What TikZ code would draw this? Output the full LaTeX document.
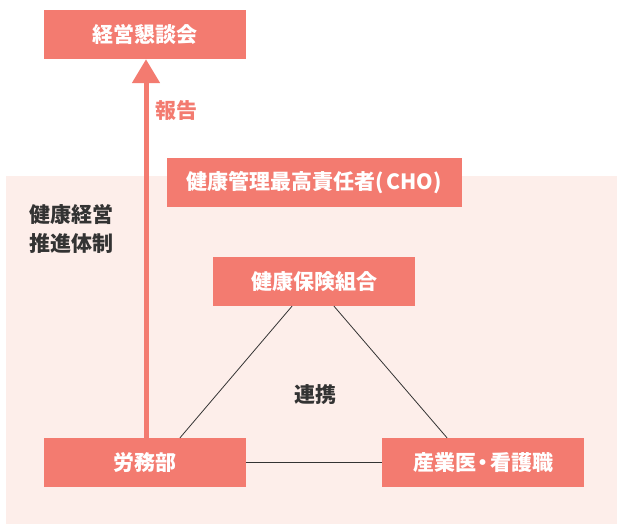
\documentclass[tikz,border=0pt]{standalone}
\usepackage{fontspec}
\setmainfont{Noto Sans CJK JP}
\usetikzlibrary{positioning, calc, arrows.meta}
\definecolor{coral}{HTML}{F37B70}
\definecolor{blush}{HTML}{FDEEEA}
\definecolor{ink}{HTML}{333333}

\begin{document}
\begin{tikzpicture}[
    x=1pt, y=-1pt,
    % Node styles
    org box/.style={
        rectangle,
        fill=coral,
        minimum width=202pt,
        minimum height=49pt,
        inner sep=0pt,
        text=white,
        font=\fontsize{21}{24}\selectfont\bfseries
    },
    plain label/.style={
        inner sep=0pt,
        text=ink,
        font=\fontsize{21}{29}\selectfont\bfseries
    },
    link/.style={
        draw=ink,
        line width=0.8pt
    },
    report arrow/.style={
        draw=coral,
        line width=5pt,
        -{Triangle[width=27pt,length=24pt]}
    }
]

% Canvas and background panel
\useasboundingbox (0,0) rectangle (617,524);
\fill[blush] (6,176) rectangle (617,524);

% Boxes
\node[org box] (kondan) at (145,34.5) {経営懇談会};
\node[org box, minimum width=295pt] (cho) at (314.5,182.5) {健康管理最高責任者(\hspace{2pt}CHO\hspace{1pt})};
\node[org box] (kenpo) at (314,281.5) {健康保険組合};
\node[org box] (roumu) at (145,462.5) {労務部};
\node[org box] (sangyo) at (483,462.5) {産業医\kern-3.5pt・\kern-3.5pt看護職};

% Labels
\node[plain label, align=left, anchor=west] (taisei) at (29,228.5) {健康経営\\推進体制};
\node[plain label] (renkei) at (315,395) {連携};

% Report arrow
\draw[report arrow] ([xshift=1pt]roumu.north) -- ([xshift=1pt]kondan.south);
\node[plain label, text=coral, anchor=west] (houkoku) at (155,111) {報告};

% Triangle of cooperation
\draw[link] ([xshift=-22pt]kenpo.south) -- ([xshift=35pt]roumu.north);
\draw[link] ([xshift=20pt]kenpo.south) -- ([xshift=-36pt]sangyo.north);
\draw[link] (roumu.east) -- (sangyo.west);

\end{tikzpicture}
\end{document}
